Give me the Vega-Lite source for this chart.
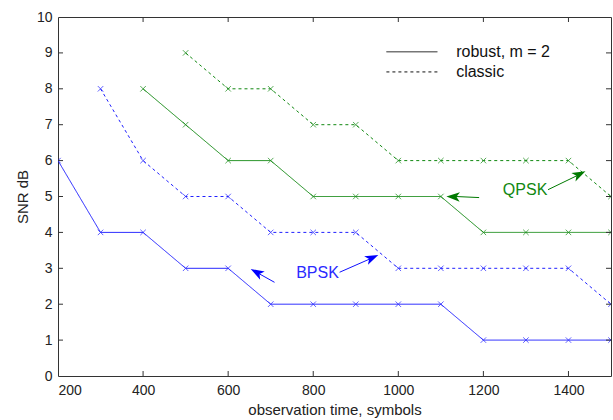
{
  "$schema": "https://vega.github.io/schema/vega-lite/v6.json",
  "width": 553,
  "height": 359,
  "autosize": "none",
  "padding": {"left": 58, "top": 17, "right": 2, "bottom": 44},
  "background": "white",
  "config": {
    "view": {"stroke": "#333333", "strokeWidth": 1},
    "font": "Liberation Sans",
    "axis": {
      "domain": false,
      "ticks": false,
      "labelColor": "#222222",
      "titleColor": "#222222",
      "labelFontSize": 14,
      "titleFontSize": 15,
      "titleFontWeight": "normal",
      "grid": false,
      "format": "d"
    }
  },
  "datasets": {
    "curves": [
      {"series": "BPSK robust", "kind": "robust", "x": 200, "y": 6},
      {"series": "BPSK robust", "kind": "robust", "x": 300, "y": 4},
      {"series": "BPSK robust", "kind": "robust", "x": 400, "y": 4},
      {"series": "BPSK robust", "kind": "robust", "x": 500, "y": 3},
      {"series": "BPSK robust", "kind": "robust", "x": 600, "y": 3},
      {"series": "BPSK robust", "kind": "robust", "x": 700, "y": 2},
      {"series": "BPSK robust", "kind": "robust", "x": 800, "y": 2},
      {"series": "BPSK robust", "kind": "robust", "x": 900, "y": 2},
      {"series": "BPSK robust", "kind": "robust", "x": 1000, "y": 2},
      {"series": "BPSK robust", "kind": "robust", "x": 1100, "y": 2},
      {"series": "BPSK robust", "kind": "robust", "x": 1200, "y": 1},
      {"series": "BPSK robust", "kind": "robust", "x": 1300, "y": 1},
      {"series": "BPSK robust", "kind": "robust", "x": 1400, "y": 1},
      {"series": "BPSK robust", "kind": "robust", "x": 1500, "y": 1},
      {"series": "BPSK classic", "kind": "classic", "x": 300, "y": 8},
      {"series": "BPSK classic", "kind": "classic", "x": 400, "y": 6},
      {"series": "BPSK classic", "kind": "classic", "x": 500, "y": 5},
      {"series": "BPSK classic", "kind": "classic", "x": 600, "y": 5},
      {"series": "BPSK classic", "kind": "classic", "x": 700, "y": 4},
      {"series": "BPSK classic", "kind": "classic", "x": 800, "y": 4},
      {"series": "BPSK classic", "kind": "classic", "x": 900, "y": 4},
      {"series": "BPSK classic", "kind": "classic", "x": 1000, "y": 3},
      {"series": "BPSK classic", "kind": "classic", "x": 1100, "y": 3},
      {"series": "BPSK classic", "kind": "classic", "x": 1200, "y": 3},
      {"series": "BPSK classic", "kind": "classic", "x": 1300, "y": 3},
      {"series": "BPSK classic", "kind": "classic", "x": 1400, "y": 3},
      {"series": "BPSK classic", "kind": "classic", "x": 1500, "y": 2},
      {"series": "QPSK robust", "kind": "robust", "x": 400, "y": 8},
      {"series": "QPSK robust", "kind": "robust", "x": 500, "y": 7},
      {"series": "QPSK robust", "kind": "robust", "x": 600, "y": 6},
      {"series": "QPSK robust", "kind": "robust", "x": 700, "y": 6},
      {"series": "QPSK robust", "kind": "robust", "x": 800, "y": 5},
      {"series": "QPSK robust", "kind": "robust", "x": 900, "y": 5},
      {"series": "QPSK robust", "kind": "robust", "x": 1000, "y": 5},
      {"series": "QPSK robust", "kind": "robust", "x": 1100, "y": 5},
      {"series": "QPSK robust", "kind": "robust", "x": 1200, "y": 4},
      {"series": "QPSK robust", "kind": "robust", "x": 1300, "y": 4},
      {"series": "QPSK robust", "kind": "robust", "x": 1400, "y": 4},
      {"series": "QPSK robust", "kind": "robust", "x": 1500, "y": 4},
      {"series": "QPSK classic", "kind": "classic", "x": 500, "y": 9},
      {"series": "QPSK classic", "kind": "classic", "x": 600, "y": 8},
      {"series": "QPSK classic", "kind": "classic", "x": 700, "y": 8},
      {"series": "QPSK classic", "kind": "classic", "x": 800, "y": 7},
      {"series": "QPSK classic", "kind": "classic", "x": 900, "y": 7},
      {"series": "QPSK classic", "kind": "classic", "x": 1000, "y": 6},
      {"series": "QPSK classic", "kind": "classic", "x": 1100, "y": 6},
      {"series": "QPSK classic", "kind": "classic", "x": 1200, "y": 6},
      {"series": "QPSK classic", "kind": "classic", "x": 1300, "y": 6},
      {"series": "QPSK classic", "kind": "classic", "x": 1400, "y": 6},
      {"series": "QPSK classic", "kind": "classic", "x": 1500, "y": 5}
    ],
    "xticks": [
      {"x": 400, "y": 0}, {"x": 600, "y": 0}, {"x": 800, "y": 0}, {"x": 1000, "y": 0}, {"x": 1200, "y": 0}, {"x": 1400, "y": 0},
      {"x": 400, "y": 10}, {"x": 600, "y": 10}, {"x": 800, "y": 10}, {"x": 1000, "y": 10}, {"x": 1200, "y": 10}, {"x": 1400, "y": 10}
    ],
    "yticks": [
      {"x": 200, "y": 1}, {"x": 200, "y": 2}, {"x": 200, "y": 3}, {"x": 200, "y": 4}, {"x": 200, "y": 5}, {"x": 200, "y": 6}, {"x": 200, "y": 7}, {"x": 200, "y": 8}, {"x": 200, "y": 9},
      {"x": 1500, "y": 1}, {"x": 1500, "y": 2}, {"x": 1500, "y": 3}, {"x": 1500, "y": 4}, {"x": 1500, "y": 5}, {"x": 1500, "y": 6}, {"x": 1500, "y": 7}, {"x": 1500, "y": 8}, {"x": 1500, "y": 9}
    ]
  },
  "encoding": {
    "x": {"field": "x", "type": "quantitative", "scale": {"domain": [200, 1500], "nice": false, "zero": false},
          "axis": {"orient": "bottom", "values": [200, 400, 600, 800, 1000, 1200, 1400], "title": "observation time, symbols", "labelPadding": 7, "titlePadding": 5}},
    "y": {"field": "y", "type": "quantitative", "scale": {"domain": [0, 10], "nice": false},
          "axis": {"orient": "left", "values": [0,1,2,3,4,5,6,7,8,9,10], "title": "SNR dB", "labelPadding": 6, "titlePadding": 6}}
  },
  "layer": [
    {
      "data": {"name": "curves"},
      "mark": {"type": "line", "strokeWidth": 1, "clip": true},
      "encoding": {
        "detail": {"field": "series"},
        "color": {"field": "series", "type": "nominal", "legend": null,
                  "scale": {"domain": ["BPSK robust", "BPSK classic", "QPSK robust", "QPSK classic"], "range": ["#2020ff", "#2020ff", "#108810", "#108810"]}},
        "strokeDash": {"field": "kind", "type": "nominal", "legend": null,
                       "scale": {"domain": ["robust", "classic"], "range": [[1, 0], [3, 3]]}}
      }
    },
    {
      "data": {"name": "curves"},
      "mark": {"type": "point", "shape": "M-1,-1L1,1M-1,1L1,-1", "filled": false, "size": 30, "strokeWidth": 1, "clip": true},
      "encoding": {
        "color": {"field": "series", "type": "nominal", "legend": null}
      }
    },
    {
      "data": {"name": "xticks"},
      "mark": {"type": "tick", "orient": "vertical", "size": 10, "thickness": 1, "color": "#333333", "opacity": 1, "clip": true},
      "encoding": {}
    },
    {
      "data": {"name": "yticks"},
      "mark": {"type": "tick", "orient": "horizontal", "size": 10, "thickness": 1, "color": "#333333", "opacity": 1, "clip": true},
      "encoding": {}
    },
    {
      "data": {"values": [
        {"arrow": "b1", "x": 709, "y": 2.61, "x2": 665, "y2": 2.9},
        {"arrow": "b2", "x": 862, "y": 2.89, "x2": 935, "y2": 3.27},
        {"arrow": "q1", "x": 1352, "y": 5.19, "x2": 1420, "y2": 5.58},
        {"arrow": "q2", "x": 1190, "y": 4.97, "x2": 1135, "y2": 5.0}
      ]},
      "mark": {"type": "rule", "strokeWidth": 1},
      "encoding": {
        "x2": {"field": "x2"},
        "y2": {"field": "y2"},
        "stroke": {"field": "arrow", "type": "nominal", "legend": null,
                  "scale": {"domain": ["b1", "b2", "q1", "q2"], "range": ["#1010ff", "#1010ff", "#007a00", "#007a00"]}}
      }
    },
    {
      "data": {"values": [{"x": 653, "y": 2.98}]},
      "mark": {"type": "point", "shape": "M0,0L0.7,2L0,1.5L-0.7,2Z", "filled": true, "size": 180, "angle": 299, "color": "#0000ff", "opacity": 1},
      "encoding": {}
    },
    {
      "data": {"values": [{"x": 953, "y": 3.37}]},
      "mark": {"type": "point", "shape": "M0,0L0.7,2L0,1.5L-0.7,2Z", "filled": true, "size": 180, "angle": 66, "color": "#0000ff", "opacity": 1},
      "encoding": {}
    },
    {
      "data": {"values": [{"x": 1440, "y": 5.7}]},
      "mark": {"type": "point", "shape": "M0,0L0.7,2L0,1.5L-0.7,2Z", "filled": true, "size": 180, "angle": 64, "color": "#007a00", "opacity": 1},
      "encoding": {}
    },
    {
      "data": {"values": [{"x": 1113, "y": 5.0}]},
      "mark": {"type": "point", "shape": "M0,0L0.7,2L0,1.5L-0.7,2Z", "filled": true, "size": 180, "angle": 272, "color": "#007a00", "opacity": 1},
      "encoding": {}
    },
    {
      "data": {"values": [
        {"label": "BPSK", "x": 810, "y": 2.86, "c": "b"},
        {"label": "QPSK", "x": 1298, "y": 5.19, "c": "q"}
      ]},
      "mark": {"type": "text", "fontSize": 16, "align": "center", "baseline": "middle"},
      "encoding": {
        "text": {"field": "label"},
        "fill": {"field": "c", "type": "nominal", "legend": null, "scale": {"domain": ["b", "q"], "range": ["#2a2aff", "#118811"]}}
      }
    },
    {
      "data": {"values": [
        {"kind": "robust", "x": 972, "x2": 1092, "y": 9.03},
        {"kind": "classic", "x": 972, "x2": 1092, "y": 8.47}
      ]},
      "mark": {"type": "rule", "strokeWidth": 1, "color": "#111111"},
      "encoding": {
        "x2": {"field": "x2"},
        "strokeDash": {"field": "kind", "type": "nominal", "legend": null}
      }
    },
    {
      "data": {"values": [
        {"label": "robust, m = 2", "x": 1136, "y": 9.03},
        {"label": "classic", "x": 1136, "y": 8.47}
      ]},
      "mark": {"type": "text", "fontSize": 16, "align": "left", "baseline": "middle", "color": "#111111"},
      "encoding": {
        "text": {"field": "label"}
      }
    }
  ]
}
